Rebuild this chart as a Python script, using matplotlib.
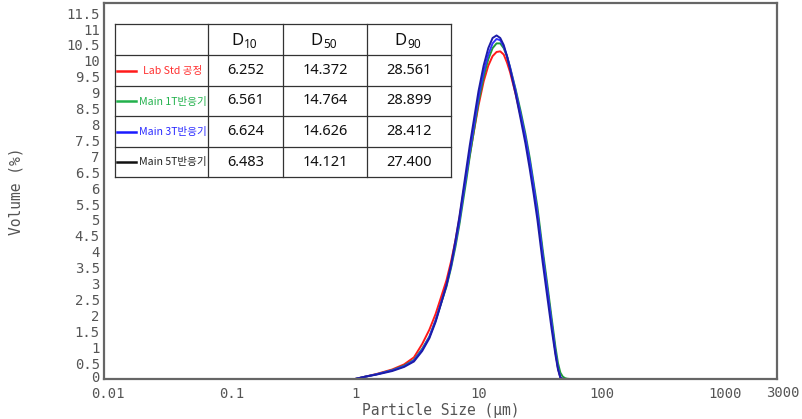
import matplotlib
matplotlib.use("Agg")
import matplotlib.pyplot as plt
from matplotlib.lines import Line2D
from matplotlib.patches import Rectangle
from matplotlib.ticker import FixedLocator, FixedFormatter, NullLocator
import matplotlib.transforms as mtransforms

# ---------------- data ----------------
sizes = [0.019, 1.0, 1.2, 1.5, 2.0, 2.5, 3.0, 3.5, 4.0, 4.5, 5.0, 5.5, 6.0, 6.5, 7.0,
         7.5, 8.0, 8.5, 9.0, 10, 11, 12, 13, 14, 15, 16, 17, 18, 20, 22, 24, 26, 28,
         30, 33, 36, 39, 42, 44, 46, 48, 50, 52, 55, 1700]

lab_std = [0, 0, 0.07, 0.16, 0.30, 0.46, 0.68, 1.10, 1.55, 2.05, 2.60, 3.10, 3.70, 4.35,
           5.05, 5.80, 6.45, 7.05, 7.60, 8.60, 9.35, 9.85, 10.15, 10.28, 10.30, 10.20,
           9.95, 9.65, 8.95, 8.25, 7.55, 6.80, 6.00, 5.20, 3.95, 2.85, 1.80, 0.85, 0.35,
           0.05, 0, 0, 0, 0, 0]
main_1t = [0, 0, 0.07, 0.15, 0.28, 0.42, 0.60, 0.95, 1.33, 1.85, 2.40, 2.90, 3.50, 4.15,
           4.85, 5.60, 6.30, 7.00, 7.60, 8.70, 9.50, 10.05, 10.40, 10.55, 10.55, 10.40,
           10.15, 9.80, 9.10, 8.40, 7.70, 6.95, 6.15, 5.40, 4.10, 3.00, 1.95, 1.00, 0.50,
           0.20, 0.08, 0.03, 0.01, 0, 0]
main_3t = [0, 0, 0.07, 0.15, 0.27, 0.40, 0.58, 0.92, 1.32, 1.85, 2.42, 2.95, 3.55, 4.25,
           4.95, 5.75, 6.45, 7.15, 7.75, 8.85, 9.65, 10.20, 10.55, 10.69, 10.65, 10.45,
           10.15, 9.80, 9.05, 8.30, 7.60, 6.85, 6.05, 5.25, 3.95, 2.85, 1.80, 0.85, 0.35,
           0.05, 0, 0, 0, 0, 0]
main_5t = [0, 0, 0.07, 0.14, 0.25, 0.38, 0.55, 0.88, 1.28, 1.80, 2.40, 2.95, 3.60, 4.35,
           5.10, 5.90, 6.65, 7.35, 7.95, 9.05, 9.85, 10.40, 10.72, 10.80, 10.72, 10.50,
           10.15, 9.75, 8.95, 8.15, 7.40, 6.60, 5.80, 5.00, 3.70, 2.60, 1.60, 0.75, 0.30,
           0.04, 0, 0, 0, 0, 0]

series_labels = ["Lab Std 공정", "Main 1T반응기", "Main 3T반응기", "Main 5T반응기"]
d10 = ["6.252", "6.561", "6.624", "6.483"]
d50 = ["14.372", "14.764", "14.626", "14.121"]
d90 = ["28.561", "28.899", "28.412", "27.400"]
header_subs = ["10", "50", "90"]

x_ticks = [0.01, 0.1, 1, 10, 100, 1000]
x_ticklabels = ["0.01", "0.1", "1", "10", "100", "1000"]
x_last_label = "3000"
y_ticks = [i * 0.5 for i in range(24)]
y_ticklabels = [("%g" % v) for v in y_ticks]

# ---------------- figure ----------------
W, H = 803, 419
fig = plt.figure(figsize=(W / 100, H / 100), dpi=100)
ax = fig.add_axes([104 / W, 1 - 379 / H, 673 / W, 376 / H])

plot_colors = ["#ff1a1a", "#1e9a3a", "#3333ff", "#1c1ca8"]
for vals, c in zip([lab_std, main_1t, main_3t, main_5t], plot_colors):
    ax.plot(sizes, vals, color=c, lw=1.4, solid_joinstyle="round")

ax.set_xscale("log")
ax.set_xlim(0.00928, 2612)
ax.set_ylim(0, 11.82)
ax.xaxis.set_major_locator(FixedLocator(x_ticks))
ax.xaxis.set_major_formatter(FixedFormatter(x_ticklabels))
ax.xaxis.set_minor_locator(NullLocator())
ax.yaxis.set_major_locator(FixedLocator(y_ticks))
ax.yaxis.set_major_formatter(FixedFormatter(y_ticklabels))
ax.tick_params(length=0, labelsize=10, labelcolor="#555555")
ax.tick_params(axis="x", pad=5.5)
ax.tick_params(axis="y", pad=3)
for lab in ax.get_xticklabels() + ax.get_yticklabels():
    lab.set_family("DejaVu Sans Mono")
# nudge the "0" label up a little so it does not sit on top of "0.01"
zero_lab = ax.get_yticklabels()[0]
zero_lab.set_transform(zero_lab.get_transform() +
                       mtransforms.ScaledTranslation(0, 3 / 100, fig.dpi_scale_trans))
for s in ax.spines.values():
    s.set_color("#666666")
    s.set_linewidth(1.6)

# last tick label sits just past the frame, as in the reference
fig.text(783 / W, 1 - 386 / H, x_last_label, ha="center", va="top", fontsize=10,
         family="DejaVu Sans Mono", color="#555555")

ax.set_xlabel("Particle Size (μm)", family="DejaVu Sans Mono", fontsize=10.5,
              color="#555555", labelpad=2)
ax.set_ylabel("Volume (%)", family="DejaVu Sans Mono", fontsize=10.5,
              color="#555555", labelpad=31)

# ---------------- table ----------------
def F(px, py):
    return px / W, 1 - py / H

cols = [115, 208, 283, 367, 451]
rows = [24, 55, 86, 116, 147, 177]
fig.add_artist(Rectangle(F(cols[0], rows[-1]), (cols[-1] - cols[0]) / W,
                         (rows[-1] - rows[0]) / H, transform=fig.transFigure,
                         facecolor="white", edgecolor="none", zorder=5))
for cx in cols:
    fig.add_artist(Line2D([cx / W, cx / W], [1 - rows[0] / H, 1 - rows[-1] / H],
                          transform=fig.transFigure, color="#333333", lw=0.9, zorder=6))
for ry in rows:
    fig.add_artist(Line2D([cols[0] / W, cols[-1] / W], [1 - ry / H, 1 - ry / H],
                          transform=fig.transFigure, color="#333333", lw=0.9, zorder=6))

nfont = ["Noto Sans", "DejaVu Sans"]
tfont = ["Noto Sans CJK KR", "DejaVu Sans"]
# header
for i, sub in enumerate(header_subs):
    cxm = (cols[i + 1] + cols[i + 2]) / 2
    fig.text(*F(cxm - 2, 45), "D", ha="right", va="baseline", fontsize=12,
             family=nfont, color="#111111", zorder=7)
    fig.text(*F(cxm - 2, 47.5), sub, ha="left", va="baseline", fontsize=8.5,
             family=nfont, color="#111111", zorder=7)

# numbers
for r, vals in enumerate(zip(d10, d50, d90)):
    cy = (rows[r + 1] + rows[r + 2]) / 2
    for c, v in enumerate(vals):
        cxm = (cols[c + 1] + cols[c + 2]) / 2
        fig.text(*F(cxm, cy), v, ha="center", va="center", fontsize=10.5,
                 family=nfont, color="#111111", zorder=7)

# legend inside first column
legend_line_colors = ["#ff1a1a", "#22b14c", "#1a1aff", "#111111"]
legend_text_colors = ["#ff3030", "#22b14c", "#2a2aff", "#222222"]
text_x = [143, 139, 139, 139]
for r in range(4):
    cy = (rows[r + 1] + rows[r + 2]) / 2 + 0.5
    fig.add_artist(Line2D([117 / W, 136 / W], [1 - cy / H, 1 - cy / H],
                          transform=fig.transFigure, color=legend_line_colors[r],
                          lw=1.8, zorder=7))
    fig.text(*F(text_x[r], cy), series_labels[r], ha="left", va="center",
             fontsize=7.6, family=tfont, color=legend_text_colors[r], zorder=7)

fig.savefig("out.png", dpi=100)
